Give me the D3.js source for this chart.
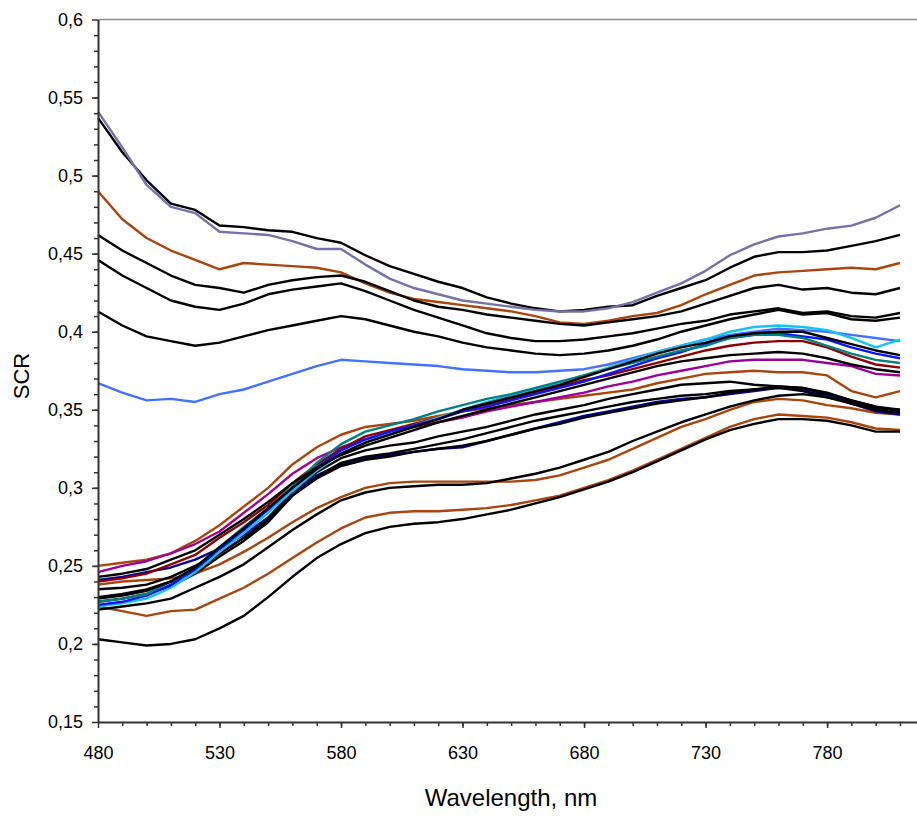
<!DOCTYPE html>
<html>
<head>
<meta charset="utf-8">
<script src="https://cdn.jsdelivr.net/npm/d3@7"></script>
<style>
    body { margin: 0; background: #fff; }
    svg { display: block; }
    .tick text { font-family: "Liberation Sans Narrow", "Arial Narrow", sans-serif; font-size: 18px; fill: #000; }
    .title { font-family: "Liberation Sans", Arial, sans-serif; fill: #000; }
</style>
</head>
<body>
<svg id="chart" width="917" height="817"></svg>
<script>
// wavelength samples, nm
const wavelengths = [480, 490, 500, 510, 520, 530, 540, 550, 560, 570,
                     580, 590, 600, 610, 620, 630, 640, 650, 660, 670,
                     680, 690, 700, 710, 720, 730, 740, 750, 760, 770,
                     780, 790, 800, 810];

// upper group (falling then rising)
const slate    = [.541,.518,.494,.480,.476,.464,.463,.462,.458,.453, .453,.443,.434,.428,.424,.420,.418,.416,.414,.413, .413,.415,.419,.425,.431,.439,.449,.456,.461,.463, .466,.468,.473,.481];
const blackA   = [.537,.515,.497,.482,.478,.468,.467,.465,.464,.460, .457,.449,.442,.437,.432,.428,.422,.418,.415,.413, .414,.416,.417,.423,.428,.433,.441,.448,.451,.451, .452,.455,.458,.462];
const brownA   = [.490,.472,.460,.452,.446,.440,.444,.443,.442,.441, .438,.431,.425,.421,.419,.417,.415,.413,.410,.406, .405,.407,.410,.412,.417,.424,.430,.436,.438,.439, .440,.441,.440,.444];
const blackB   = [.462,.452,.444,.436,.430,.428,.425,.430,.433,.435, .436,.432,.426,.420,.416,.414,.411,.409,.407,.405, .404,.406,.408,.410,.413,.418,.423,.428,.430,.427, .428,.425,.424,.428];
const blackC   = [.446,.436,.428,.420,.416,.414,.418,.424,.427,.429, .431,.426,.420,.414,.409,.404,.399,.396,.394,.394, .395,.397,.399,.402,.405,.407,.411,.413,.415,.412, .413,.410,.409,.412];
const blackD   = [.413,.404,.397,.394,.391,.393,.397,.401,.404,.407, .410,.408,.404,.400,.397,.393,.390,.388,.386,.385, .386,.388,.391,.395,.400,.404,.408,.411,.414,.411, .412,.408,.407,.409];
const skyBlue  = [.367,.361,.356,.357,.355,.360,.363,.368,.373,.378, .382,.381,.380,.379,.378,.376,.375,.374,.374,.375, .376,.379,.383,.387,.391,.395,.398,.400,.402,.401, .400,.398,.396,.394];

// lower group (rising)
const brownB   = [.250,.252,.254,.258,.266,.276,.288,.300,.315,.326, .334,.339,.341,.343,.346,.349,.351,.353,.355,.357, .359,.361,.363,.367,.370,.373,.374,.375,.374,.374, .372,.362,.358,.362];
const purple   = [.246,.250,.253,.258,.264,.272,.284,.296,.309,.319, .326,.331,.335,.339,.342,.345,.349,.352,.355,.358, .361,.365,.368,.372,.375,.378,.381,.382,.382,.382, .380,.378,.373,.372];
const darkRed  = [.240,.242,.245,.251,.257,.268,.278,.289,.303,.315, .325,.333,.337,.341,.345,.349,.353,.357,.361,.365, .369,.372,.376,.380,.384,.388,.391,.393,.394,.394, .390,.384,.379,.377];
const teal     = [.227,.229,.232,.240,.249,.262,.275,.287,.301,.316, .328,.336,.340,.344,.349,.353,.357,.360,.364,.368, .372,.376,.380,.384,.388,.391,.396,.398,.398,.396, .391,.386,.382,.380];
const cyan     = [.224,.226,.229,.236,.246,.259,.271,.284,.298,.311, .322,.329,.335,.340,.345,.350,.355,.359,.363,.367, .372,.377,.382,.387,.391,.395,.400,.403,.404,.403, .401,.396,.390,.395];
const blue     = [.225,.227,.231,.238,.248,.261,.273,.286,.300,.313, .324,.331,.336,.340,.344,.349,.352,.356,.360,.364, .368,.373,.378,.383,.387,.392,.396,.398,.399,.397, .395,.390,.386,.383];
const blackE   = [.229,.231,.234,.240,.249,.262,.274,.287,.300,.312, .322,.329,.334,.339,.344,.350,.354,.358,.362,.366, .371,.376,.381,.386,.390,.393,.397,.399,.400,.400, .396,.392,.388,.385];
const blackF   = [.243,.245,.248,.254,.260,.270,.280,.291,.303,.313, .321,.327,.332,.337,.342,.346,.350,.354,.358,.362, .366,.370,.374,.378,.381,.383,.385,.386,.387,.386, .383,.379,.376,.374];
const blackG   = [.230,.232,.235,.240,.247,.258,.268,.280,.298,.310, .319,.324,.327,.329,.333,.336,.339,.343,.347,.350, .353,.357,.360,.363,.366,.367,.368,.366,.365,.364, .360,.356,.352,.350];
const blackH   = [.227,.229,.232,.237,.245,.256,.266,.278,.295,.307, .316,.320,.322,.325,.328,.331,.335,.339,.343,.346, .349,.352,.355,.357,.359,.360,.362,.363,.364,.362, .358,.354,.350,.348];
const navy     = [.241,.243,.246,.249,.254,.261,.270,.281,.297,.308, .315,.319,.321,.323,.325,.326,.330,.334,.338,.342, .346,.349,.352,.355,.357,.358,.360,.362,.364,.363, .359,.354,.349,.347];
const blackI   = [.235,.236,.238,.243,.250,.258,.268,.279,.295,.306, .314,.318,.320,.323,.325,.327,.330,.334,.338,.341, .345,.348,.351,.354,.356,.358,.361,.363,.365,.364, .361,.356,.352,.349];
const blackJ   = [.222,.224,.226,.229,.236,.243,.251,.262,.273,.283, .292,.297,.300,.301,.302,.302,.303,.306,.309,.313, .318,.323,.330,.336,.342,.347,.352,.356,.359,.360, .358,.355,.351,.350];
const brownC   = [.238,.240,.241,.242,.245,.251,.259,.268,.278,.287, .294,.300,.303,.304,.304,.304,.304,.304,.305,.308, .313,.318,.325,.332,.339,.344,.350,.355,.357,.356, .353,.351,.348,.347];
const brownD   = [.224,.221,.218,.221,.222,.229,.236,.245,.255,.265, .274,.281,.284,.285,.285,.286,.287,.289,.292,.295, .300,.305,.311,.318,.325,.332,.339,.344,.347,.346, .345,.342,.338,.337];
const blackK   = [.203,.201,.199,.200,.203,.210,.218,.230,.243,.255, .264,.271,.275,.277,.278,.280,.283,.286,.290,.294, .299,.304,.310,.317,.324,.331,.337,.341,.344,.344, .343,.340,.336,.336];

const xTicks = [480, 530, 580, 630, 680, 730, 780];
const yTicks = [0.15, 0.2, 0.25, 0.3, 0.35, 0.4, 0.45, 0.5, 0.55, 0.6];

const colorMap = {
    slate: "#7373a8", black: "#000000", brown: "#a8450f", skyBlue: "#4472ff",
    purple: "#990099", darkRed: "#8b0000", teal: "#008080", cyan: "#14c3f5",
    blue: "#0a14ff", navy: "#000090"
};

// drawing order: later ones on top
const series = [
    { kind: "black", values: blackA },
    { kind: "slate", values: slate },
    { kind: "brown", values: brownA },
    { kind: "black", values: blackB },
    { kind: "black", values: blackC },
    { kind: "black", values: blackD },
    { kind: "skyBlue", values: skyBlue },
    { kind: "brown", values: brownC },
    { kind: "brown", values: brownD },
    { kind: "black", values: blackJ },
    { kind: "black", values: blackK },
    { kind: "navy", values: navy },
    { kind: "black", values: blackG },
    { kind: "black", values: blackH },
    { kind: "black", values: blackI },
    { kind: "brown", values: brownB },
    { kind: "purple", values: purple },
    { kind: "darkRed", values: darkRed },
    { kind: "cyan", values: cyan },
    { kind: "blue", values: blue },
    { kind: "teal", values: teal },
    { kind: "black", values: blackE },
    { kind: "black", values: blackF }
];

const svg = d3.select("#chart");
const plotLeft = 98, plotRight = 917, plotTop = 19.5, plotBottom = 722;

const x = d3.scaleLinear().domain([480, 817]).range([plotLeft, plotRight]);
const y = d3.scaleLinear().domain([0.15, 0.6]).range([plotBottom, plotTop]);

const line = d3.line()
    .x((d, i) => x(wavelengths[i]))
    .y(d => y(d));

svg.append("g")
    .selectAll("path")
    .data(series)
    .enter().append("path")
    .attr("d", d => line(d.values))
    .attr("fill", "none")
    .attr("stroke", d => colorMap[d.kind])
    .attr("stroke-width", 2.4)
    .attr("stroke-linejoin", "round");

// top frame line
svg.append("line")
    .attr("x1", plotLeft).attr("x2", plotRight)
    .attr("y1", plotTop).attr("y2", plotTop)
    .attr("stroke", "#8c8c8c")
    .attr("stroke-width", 1.5);

const fmt = v => String(+v.toFixed(2)).replace(".", ",");

// minor ticks
svg.append("g")
    .attr("transform", `translate(${plotLeft},0)`)
    .call(d3.axisLeft(y).tickValues(d3.range(0.16, 0.6, 0.01)).tickSize(4).tickFormat(""))
    .call(g => g.select(".domain").remove());
svg.append("g")
    .attr("transform", `translate(0,${plotBottom})`)
    .call(d3.axisBottom(x).tickValues(d3.range(490, 815, 10)).tickSize(4).tickFormat(""))
    .call(g => g.select(".domain").remove());

const yAxis = svg.append("g")
    .attr("transform", `translate(${plotLeft},0)`)
    .call(d3.axisLeft(y).tickValues(yTicks).tickSize(6).tickSizeOuter(0).tickPadding(9).tickFormat(fmt));
const xAxis = svg.append("g")
    .attr("transform", `translate(0,${plotBottom})`)
    .call(d3.axisBottom(x).tickValues(xTicks).tickSize(6).tickSizeOuter(0).tickPadding(18).tickFormat(d => d));

[yAxis, xAxis].forEach(g => {
    g.select(".domain").attr("stroke", "#333").attr("stroke-width", 2);
});
svg.selectAll(".tick line").attr("stroke", "#333").attr("stroke-width", 1.5);

svg.append("text")
    .attr("class", "title")
    .attr("x", 511).attr("y", 806)
    .attr("text-anchor", "middle")
    .attr("font-size", 24)
    .text("Wavelength, nm");

svg.append("text")
    .attr("class", "title")
    .attr("transform", "translate(29,376) rotate(-90)")
    .attr("text-anchor", "middle")
    .attr("font-size", 22)
    .text("SCR");
</script>
</body>
</html>
